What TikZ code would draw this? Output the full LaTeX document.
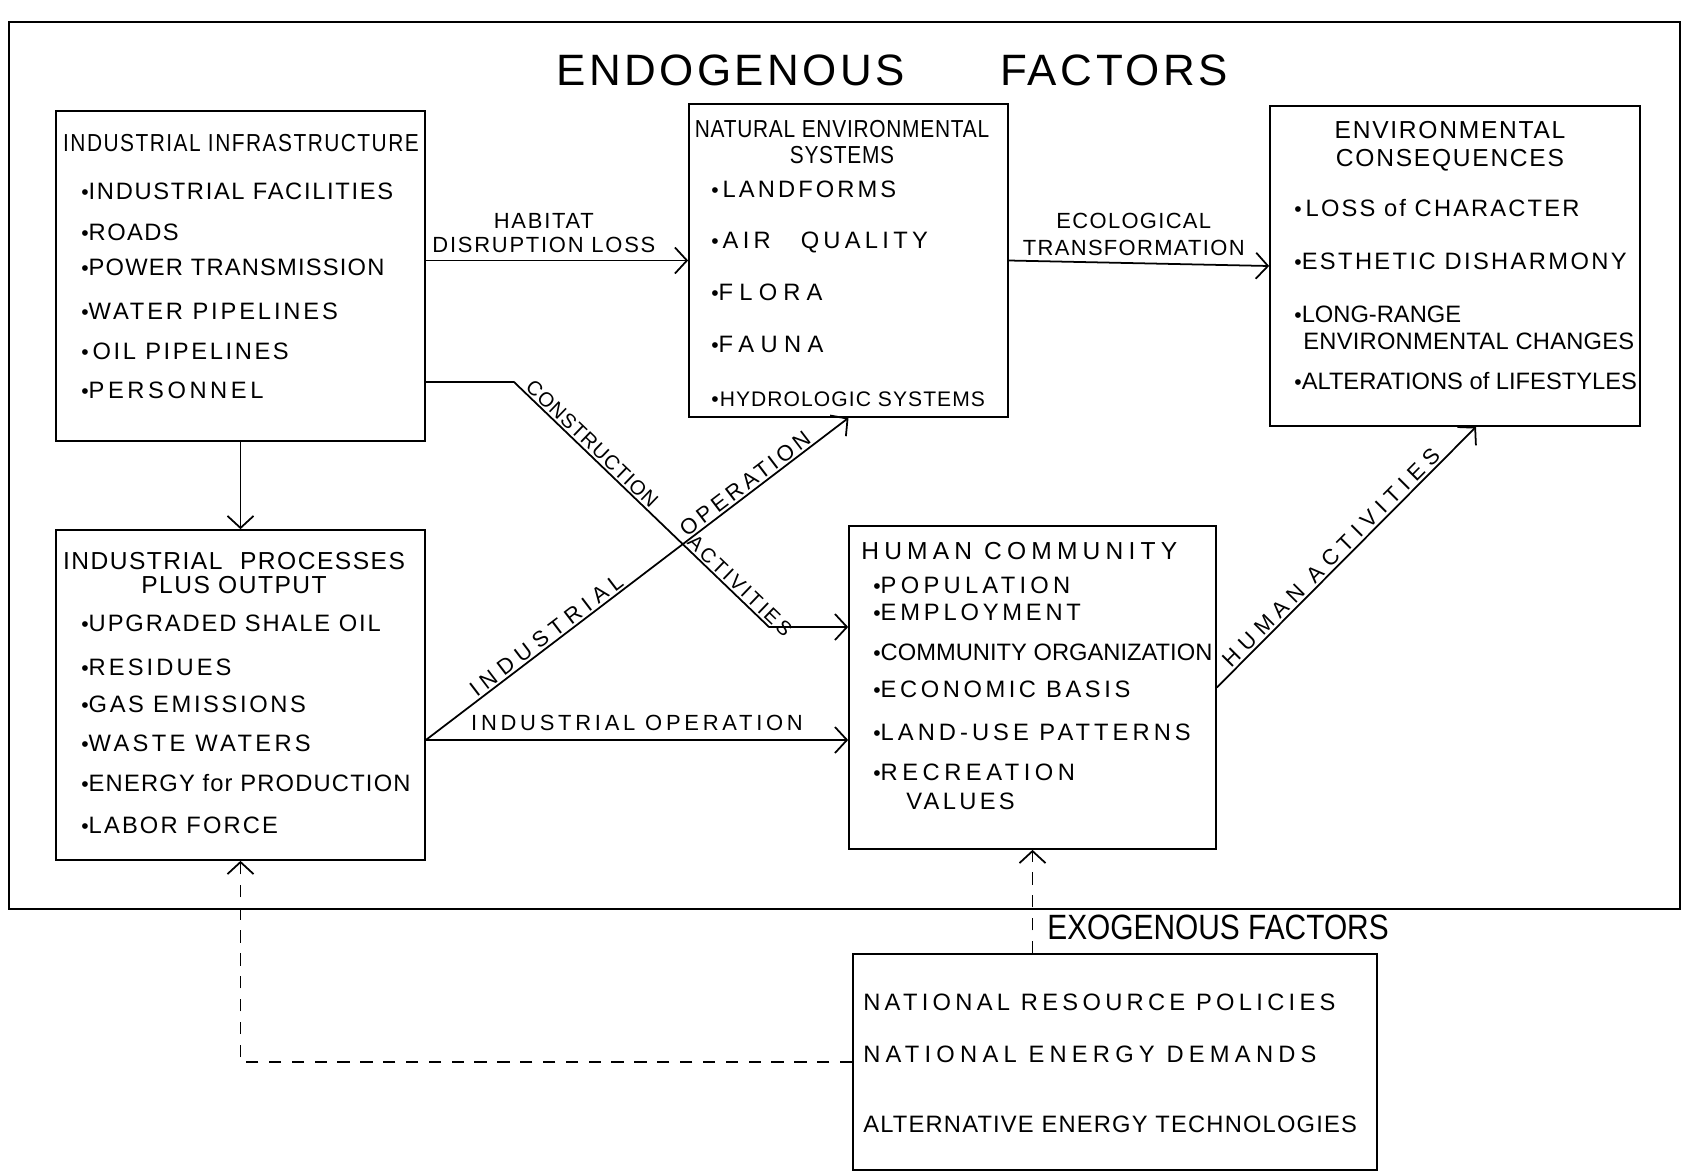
\documentclass[tikz,border=0pt]{standalone}
\usepackage{fontspec}
\setmainfont{Liberation Sans}
\newfontfamily\handfont{Liberation Sans}
\newfontfamily\narrowfont[FakeStretch=0.85]{Liberation Sans}
\usepackage{tikz}
\usetikzlibrary{arrows.meta,positioning}
\newcommand{\lsp}[1]{\addfontfeature{LetterSpace=#1}}
\newcommand{\dotb}{{\fontsize{12}{12}\selectfont\textbullet}}
\tikzstyle{block} = [draw, line width=1pt, inner sep=0pt]
\tikzstyle{flow} = [line width=1pt,-{Straight Barb[length=2.4mm,width=5.2mm]}]
\tikzstyle{exoflow} = [flow, dash pattern=on 7pt off 6pt]
\tikzset{
  item/.style={anchor=west, inner sep=0pt, font=\handfont\fontsize{13.5}{16}\selectfont\lsp{#1}},
  item/.default=8,
  lab/.style={inner sep=1pt, font=\handfont\fontsize{12.5}{13.6}\selectfont\lsp{#1}},
  lab/.default=8,
  head/.style={inner sep=0pt, align=center, font=\handfont\fontsize{14}{15}\selectfont\lsp{#1}},
  head/.default=7,
}

\begin{document}
\begin{tikzpicture}[x=0.02cm, y=-0.02cm]
        \useasboundingbox (0,0) rectangle (1686,1173);
        % endogenous part
        \draw[line width=0.8pt] (9,22) rectangle (1680,909);
        \node[font=\handfont\fontsize{25}{30}\selectfont\lsp{8}] (endo) at (892,70) {ENDOGENOUS\hspace{1.9cm}FACTORS};

        \node[block, minimum width=7.38cm, minimum height=6.6cm] (ii) at (240.5,276) {};
        \node[block, minimum width=6.38cm, minimum height=6.26cm] (nes) at (848.5,260.5) {};
        \node[block, minimum width=7.4cm, minimum height=6.4cm] (ec) at (1455,266) {};
        \node[block, minimum width=7.38cm, minimum height=6.6cm] (ippo) at (240.5,695) {};
        \node[block, minimum width=7.34cm, minimum height=6.46cm] (hc) at (1032.5,687.5) {};
        \node[block, minimum width=10.48cm, minimum height=4.32cm] (exo) at (1115,1062) {};

        % industrial infrastructure
        \node[inner sep=0pt, font=\narrowfont\fontsize{14}{15}\selectfont\lsp{6}] (ii0) at (241,143) {INDUSTRIAL INFRASTRUCTURE};
        \node[item=7] (ii1) at (81,191) {\dotb INDUSTRIAL FACILITIES};
        \node[item=6] (ii2) at (81,232) {\dotb ROADS};
        \node[item=5] (ii3) at (81,267) {\dotb POWER TRANSMISSION};
        \node[item=12] (ii4) at (81,311) {\dotb WATER PIPELINES};
        \node[item=11] (ii5) at (81,351) {\dotb\,OIL PIPELINES};
        \node[item=15] (ii6) at (81,390) {\dotb PERSONNEL};

        % natural environmental systems
        \node[inner sep=0pt, align=center, font=\narrowfont\fontsize{14}{14.3}\selectfont\lsp{3}] (nes0) at (842,142) {NATURAL ENVIRONMENTAL\\SYSTEMS};
        \node[item=13] (nes1) at (711,189) {\dotb\,LANDFORMS};
        \node[item=18] (nes2) at (711,242) {\dotb\,AIR\hspace{0.6cm}QUALITY};
        \node[item=26] (nes3) at (711,292) {\dotb FLORA};
        \node[item=27] (nes4) at (711,344) {\dotb FAUNA};
        \node[item=5, font=\handfont\fontsize{12}{14}\selectfont\lsp{5}] (nes5) at (711,399) {\dotb HYDROLOGIC SYSTEMS};

        % environmental consequences
        \node[head=7, font=\handfont\fontsize{14}{15.9}\selectfont\lsp{7}] (ec0) at (1450,146) {ENVIRONMENTAL\\CONSEQUENCES};
        \node[item=9] (ec1) at (1294,208) {\dotb\,LOSS of CHARACTER};
        \node[item=10] (ec2) at (1294,261) {\dotb ESTHETIC DISHARMONY};
        \node[item=0] (ec3) at (1294,314) {\dotb LONG-RANGE};
        \node[item=1] (ec4) at (1303,341) {ENVIRONMENTAL CHANGES};
        \node[item=0] (ec5) at (1294,381) {\dotb ALTERATIONS of LIFESTYLES};

        % industrial processes
        \node[head=6, font=\handfont\fontsize{14}{14.2}\selectfont\lsp{6}] (ippo0) at (234,573) {INDUSTRIAL\hspace{0.35cm}PROCESSES\\PLUS OUTPUT};
        \node[item=8] (ippo1) at (81,623) {\dotb UPGRADED SHALE OIL};
        \node[item=13] (ippo2) at (81,667) {\dotb RESIDUES};
        \node[item=11] (ippo3) at (81,704) {\dotb GAS EMISSIONS};
        \node[item=14] (ippo4) at (81,743) {\dotb WASTE WATERS};
        \node[item=5] (ippo5) at (81,783) {\dotb ENERGY for PRODUCTION};
        \node[item=9] (ippo6) at (81,825) {\dotb LABOR FORCE};

        % human community
        \node[anchor=west, inner sep=0pt, font=\handfont\fontsize{14}{15}\selectfont\lsp{21}] (hc0) at (861,551) {HUMAN COMMUNITY};
        \node[item=18] (hc1) at (873,585) {\dotb POPULATION};
        \node[item=16] (hc2) at (873,612) {\dotb EMPLOYMENT};
        \node[item=0] (hc3) at (873,652) {\dotb COMMUNITY ORGANIZATION};
        \node[item=15] (hc4) at (873,689) {\dotb ECONOMIC BASIS};
        \node[item=17] (hc5) at (873,732) {\dotb LAND-USE PATTERNS};
        \node[item=19] (hc6) at (873,772) {\dotb RECREATION};
        \node[item=14] (hc7) at (906,801) {VALUES};

        % exogenous factors
        \node[anchor=west, inner sep=0pt, font=\narrowfont\fontsize{20}{24}\selectfont] (exo0) at (1047,927) {EXOGENOUS FACTORS};
        \node[item=18] (exo1) at (863,1002) {NATIONAL RESOURCE POLICIES};
        \node[item=22] (exo2) at (863,1054) {NATIONAL ENERGY DEMANDS};
        \node[item=5] (exo3) at (863,1124) {ALTERNATIVE ENERGY TECHNOLOGIES};

        \coordinate (bend1) at (514,382);
        \coordinate (bend2) at (769,627);
        \coordinate (ioout) at (425,740);

        \draw[flow] (ii.east |- nes.west) -- node[lab, above=3pt, align=center, pos=0.45] {HABITAT\\DISRUPTION LOSS} (nes.west);
        \draw[flow] (nes.east) -- node[lab=6, above=3pt, align=center, pos=0.48, font=\handfont\fontsize{12.5}{15.3}\selectfont\lsp{6}] {ECOLOGICAL\\TRANSFORMATION} (ec.west);
        \draw[flow] (ii.south) -- (ippo.north);
        \draw[flow] (ii.east |- bend1) -- (bend1) -- node[lab=5, sloped, above, pos=0.28, font=\handfont\fontsize{11.5}{13}\selectfont\lsp{5}] {CONSTRUCTION} node[lab=14, sloped, above, pos=0.86, font=\handfont\fontsize{11.5}{13}\selectfont\lsp{14}] {ACTIVITIES} (bend2) -- (hc.west |- bend2);
        \draw[flow] (ippo.east |- ioout) -- node[lab=28, sloped, above, pos=0.3] {INDUSTRIAL} node[lab=17, sloped, above, pos=0.77] {OPERATION} (nes.south);
        \draw[flow] (ippo.east |- ioout) -- node[lab=17, above=4pt] {INDUSTRIAL OPERATION} (hc.west |- ioout);
        \draw[flow] (hc.east) -- node[lab=30, sloped, above, pos=0.47] {HUMAN ACTIVITIES} ([xshift=0.42cm]ec.south);
        \draw[exoflow] (exo.west) -| (ippo.south);
        \draw[exoflow] (exo.north -| hc.south) -- (hc.south);
        \end{tikzpicture}
\end{document}
